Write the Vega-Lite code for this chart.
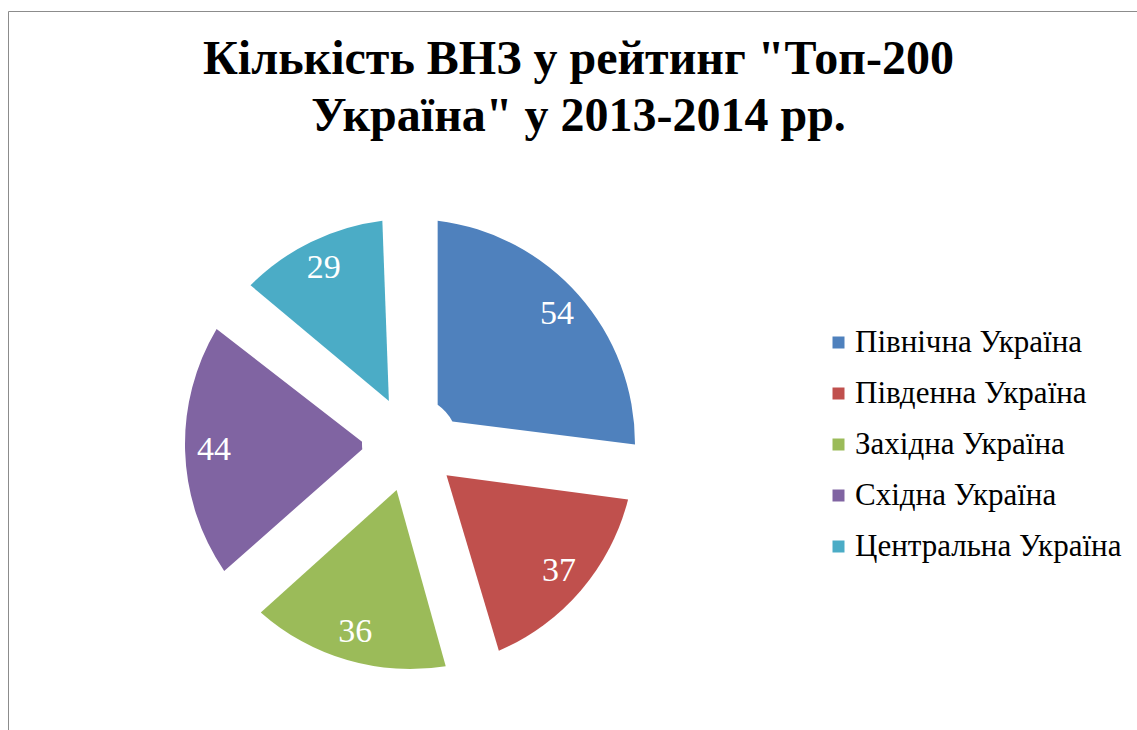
{
  "$schema": "https://vega.github.io/schema/vega-lite/v6.json",
  "autosize": {"type": "none"},
  "padding": {"left": 8, "top": 11, "right": 0, "bottom": 0},
  "width": 1129,
  "height": 719,
  "background": "white",
  "view": {"stroke": "#8c8c8c", "strokeWidth": 1},
  "config": {
    "view": {"stroke": "#8c8c8c", "strokeWidth": 1},
    "font": "Liberation Serif"
  },
  "title": {
    "text": ["Кількість ВНЗ у рейтинг \"Топ-200", "Україна\" у 2013-2014 рр."],
    "font": "Liberation Serif",
    "fontSize": 48,
    "fontWeight": "bold",
    "color": "black",
    "lineHeight": 57,
    "anchor": "middle",
    "orient": "top",
    "baseline": "top",
    "offset": -130,
    "dx": 6
  },
  "data": {
    "values": [
      {"region": "Північна Україна", "count": 54, "rank": 1},
      {"region": "Південна Україна", "count": 37, "rank": 2},
      {"region": "Західна Україна", "count": 36, "rank": 3},
      {"region": "Східна Україна", "count": 44, "rank": 4},
      {"region": "Центральна Україна", "count": 29, "rank": 5}
    ]
  },
  "encoding": {
    "theta": {"field": "count", "type": "quantitative", "stack": true},
    "order": {"field": "rank", "type": "quantitative", "sort": "ascending"},
    "color": {
      "field": "region",
      "type": "nominal",
      "scale": {
        "domain": ["Північна Україна", "Південна Україна", "Західна Україна", "Східна Україна", "Центральна Україна"],
        "range": ["#4F81BD", "#C0504D", "#9BBB59", "#8064A2", "#4BACC6"]
      },
      "legend": {
        "title": null,
        "orient": "none",
        "legendX": 815,
        "legendY": 316,
        "symbolType": "square",
        "symbolSize": 144,
        "symbolStrokeWidth": 0,
        "labelFont": "Liberation Serif",
        "labelFontSize": 31,
        "labelColor": "black",
        "labelOffset": 1,
        "rowPadding": 19,
        "labelLimit": 400
      }
    }
  },
  "layer": [
    {
      "mark": {"type": "arc", "x": 402, "y": 433, "outerRadius": 225, "innerRadius": 48, "padAngle": 0.241}
    },
    {
      "mark": {"type": "text", "x": 402, "y": 433, "radius": 196, "font": "Liberation Serif", "fontSize": 34, "color": "white", "baseline": "middle", "align": "center"},
      "encoding": {
        "text": {"field": "count", "type": "quantitative"},
        "color": {"value": "white"}
      }
    }
  ]
}
